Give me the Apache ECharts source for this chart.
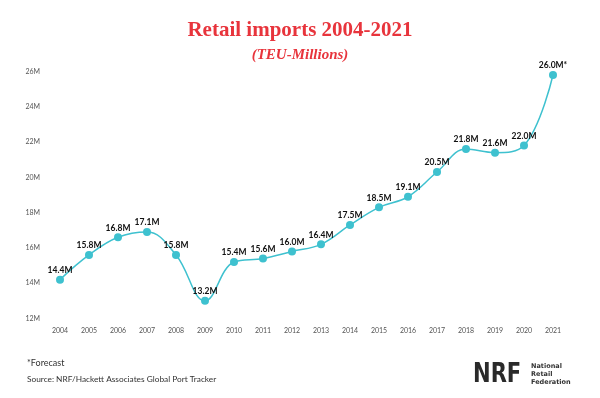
<!DOCTYPE html>
<html>
<head>
<meta charset="utf-8">
<script src="https://cdn.jsdelivr.net/npm/echarts@6/dist/echarts.min.js"></script>
<style>
  html, body { margin: 0; padding: 0; background: #fff; }
  #chart { width: 600px; height: 398px; }
</style>
</head>
<body>
<div id="chart"></div>
<script>
var years = ['2004', '2005', '2006', '2007', '2008', '2009', '2010', '2011', '2012',
    '2013', '2014', '2015', '2016', '2017', '2018', '2019', '2020', '2021'];
var imports = [14.4, 15.8, 16.8, 17.1, 15.8, 13.2, 15.4, 15.6, 16.0,
    16.4, 17.5, 18.5, 19.1, 20.5, 21.8, 21.6, 22.0, 26.0];
// last year is a forecast
var forecastYears = ['2021'];

var mchart = echarts.init(document.getElementById('chart'));

var option = {
    backgroundColor: '#fff',
    animation: false,
    title: [
        {
            text: 'Retail imports 2004-2021',
            left: 'center',
            top: 15,
            textStyle: {
                fontFamily: 'Liberation Serif',
                fontWeight: 'bold',
                fontSize: 21,
                color: '#e8343c'
            }
        },
        {
            text: '(TEU-Millions)',
            left: 'center',
            top: 43,
            textStyle: {
                fontFamily: 'Liberation Serif',
                fontStyle: 'italic',
                fontWeight: 'bold',
                fontSize: 15,
                color: '#e8343c'
            }
        }
    ],
    grid: {
        left: 60,
        right: 47,
        top: 75,
        bottom: 76
    },
    xAxis: {
        type: 'category',
        data: years,
        boundaryGap: false,
        axisLine: { show: false },
        axisTick: { show: false },
        axisLabel: {
            margin: 5,
            fontFamily: 'Lato',
            fontSize: 7,
            color: '#555'
        }
    },
    yAxis: {
        type: 'value',
        min: 12,
        max: 26,
        interval: 2,
        splitLine: { show: false },
        axisLine: { show: false },
        axisTick: { show: false },
        axisLabel: {
            margin: 20,
            verticalAlign: 'bottom',
            fontFamily: 'Lato',
            fontSize: 7,
            color: '#555',
            formatter: '{value}M'
        }
    },
    series: [
        {
            type: 'line',
            data: imports,
            smooth: 0.4,
            symbol: 'circle',
            symbolSize: 8,
            lineStyle: { color: '#3ec1cf', width: 1.5 },
            itemStyle: { color: '#3ec1cf' },
            label: {
                show: true,
                position: 'top',
                distance: 1,
                fontFamily: 'Lato',
                fontWeight: 'bold',
                fontSize: 8.5,
                color: '#111',
                formatter: function (p) {
                    var star = forecastYears.indexOf(p.name) >= 0 ? '*' : '';
                    return p.value.toFixed(1) + 'M' + star;
                }
            }
        }
    ],
    graphic: [
        {
            type: 'text',
            left: 27,
            top: 359,
            style: {
                text: '*Forecast',
                font: '9px Lato',
                fill: '#333'
            }
        },
        {
            type: 'text',
            left: 27,
            top: 375,
            style: {
                text: 'Source: NRF/Hackett Associates Global Port Tracker',
                font: '8.3px Lato',
                fill: '#333'
            }
        },
        {
            type: 'text',
            x: 473,
            y: 361,
            scaleX: 0.78,
            style: {
                text: 'NRF',
                font: 'bold 27px "DejaVu Sans"',
                fill: '#2a2a2a'
            }
        },
        {
            type: 'text',
            left: 531,
            top: 362,
            style: {
                text: 'National\nRetail\nFederation',
                font: 'bold 6.5px "DejaVu Sans"',
                lineHeight: 8,
                fill: '#333'
            }
        }
    ]
};

mchart.setOption(option);
</script>
</body>
</html>
